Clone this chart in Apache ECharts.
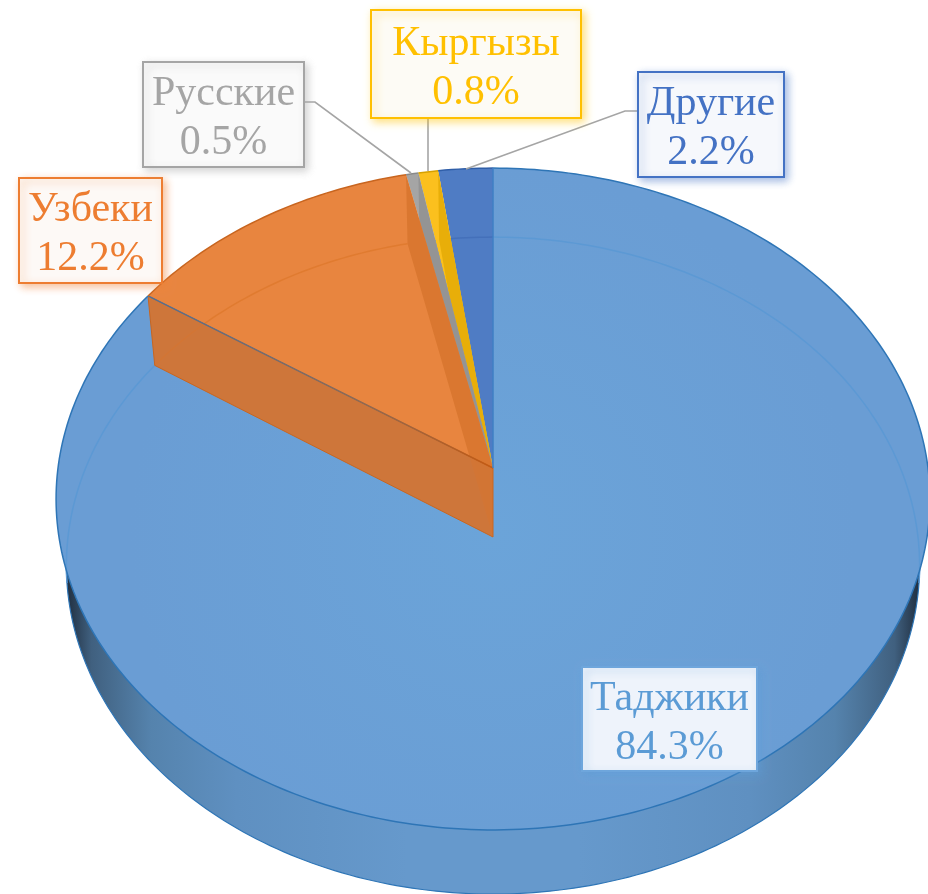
<!DOCTYPE html>
<html>
<head>
<meta charset="utf-8">
<style>
  html, body { margin: 0; padding: 0; background: #fff; }
  #chart { width: 928px; height: 894px; }
</style>
<script src="https://cdn.jsdelivr.net/npm/echarts@6/dist/echarts.min.js"></script>
</head>
<body>
<div id="chart"></div>
<script>
// clockwise from 12 o'clock, same order as the slices in the picture
const names = ['Таджики', 'Узбеки', 'Русские', 'Кыргызы', 'Другие'];
const values = [84.3, 12.2, 0.5, 0.8, 2.2];

const faceColors = ['#699fd6', '#e8853f', '#a5a5a5', '#fbc01e', '#4f7cc4'];
const wallColors = ['#5f97d0', '#d8762f', '#929292', '#e6ac08', '#4872bc'];
const rimColors = ['#2e75b6', '#c8651f', '#8a8a8a', '#d6a000', '#2f5ea8'];
const arcColors = ['#5c99d4', '#e07b30', '#9a9a9a', '#e6ac08', '#4470ba'];
const labelColors = ['#5b9bd5', '#ed7d31', '#a5a5a5', '#ffc000', '#4472c4'];
const labelFills = ['#eef3fb', '#fdf9f6', '#fafafa', '#fdfbf5', '#f6f8fc'];

// label boxes [x, y, w, h] and their leader lines
const labelBoxes = [
    [582, 667, 175, 104],
    [19, 178, 143, 105],
    [143, 62, 161, 105],
    [371, 10, 210, 108],
    [638, 72, 146, 105]
];
const leaders = [
    null,
    null,
    [[304, 102], [315, 102], [411, 173]],
    [[428, 118], [428, 171]],
    [[638, 111], [625, 111], [466, 169]]
];

// perspective of the top and bottom discs
const topRim = { cx: 493, cy: 468, r: 435, h: 328, k: 0.0937 };
const bottomRim = { cx: 493, cy: 537, r: 425, h: 326, k: 0.087 };

const project = (rim, deg) => {
    const a = deg * Math.PI / 180;
    const u = Math.sin(a);
    const v = Math.cos(a);
    const s = 1 / (1 + rim.k * v);
    return [rim.cx + rim.r * u * s, rim.cy - rim.h * v * s];
};

const arc = (rim, from, to) => {
    const pts = [];
    const steps = Math.max(2, Math.ceil(Math.abs(to - from)));
    for (let i = 0; i <= steps; i++) {
        pts.push(project(rim, from + (to - from) * i / steps));
    }
    return pts;
};

const topApex = [topRim.cx, topRim.cy];
const bottomApex = [bottomRim.cx, bottomRim.cy];

// slice angles come from the values
const total = values.reduce((a, b) => a + b, 0);
const starts = [];
let sum = 0;
values.forEach((v) => {
    starts.push(sum / total * 360);
    sum += v;
});

const sideFill = new echarts.graphic.LinearGradient(0, 0, 1, 0, [
    { offset: 0, color: '#1f2d3e' },
    { offset: 0.03, color: '#40607f' },
    { offset: 0.1, color: '#5583ad' },
    { offset: 0.2, color: '#5f90c1' },
    { offset: 0.4, color: '#6699cc' },
    { offset: 0.6, color: '#6699cc' },
    { offset: 0.8, color: '#5f90c1' },
    { offset: 0.9, color: '#5583ad' },
    { offset: 0.97, color: '#40607f' },
    { offset: 1, color: '#1f2d3e' }
]);
const tajikFill = new echarts.graphic.RadialGradient(0.5, 0.55, 0.55, [
    { offset: 0, color: '#6ba4d9' },
    { offset: 1, color: '#6a9dd4' }
]);
const cutEdge = new echarts.graphic.LinearGradient(0, 0, 1, 0, [
    { offset: 0, color: '#4f6f96' },
    { offset: 0.6, color: '#8a6a58' },
    { offset: 1, color: '#c55a11' }
]);

const poly = (points, style, z2) => ({
    type: 'polygon',
    shape: { points },
    style,
    z2: z2 || 0,
    silent: true
});
const line = (points, stroke, lineWidth, z2) => ({
    type: 'polyline',
    shape: { points },
    style: { stroke, lineWidth, fill: 'none' },
    z2: z2 || 0,
    silent: true
});

const renderSlice = (params, api) => {
    const i = params.dataIndex;
    const from = starts[i];
    const to = from + api.value(0) / total * 360;
    // small slices are painted right to left so a wall can only show on its own face
    const base = i === 0 ? 0 : (values.length - i) * 10;
    const children = [];

    if (i === 0) {
        // body of the pie: bottom disc shows as the side wall below the top disc
        children.push(poly(arc(bottomRim, 0, 360), { fill: sideFill, stroke: rimColors[0], lineWidth: 1.2 }));
    }

    // top face
    const face = [topApex].concat(arc(topRim, from, to));
    children.push(poly(face, { fill: i === 0 ? tajikFill : faceColors[i] }, base + 1));

    // far rim of the bottom disc, seen through the top
    if (i === 0) {
        children.push(line(arc(bottomRim, 0, 98), arcColors[i], 1.5, 1));
        children.push(line(arc(bottomRim, 262, to), arcColors[i], 1.5, 1));
    } else if (i === 1 || i === values.length - 1) {
        children.push(line(arc(bottomRim, from, to), arcColors[i], 1.5, base + 2));
    }

    // wall on the clockwise side of the slice
    if (i > 0 && i < values.length - 1) {
        children.push(poly([project(topRim, to), topApex, bottomApex, project(bottomRim, to)], {
            fill: wallColors[i],
            opacity: 0.92
        }, base + 3));
    }

    // near cut wall of the Uzbek slice
    if (i === 1) {
        children.push(poly([project(topRim, from), topApex, bottomApex, project(bottomRim, from)], {
            fill: '#d27535',
            opacity: 0.97,
            stroke: '#c8651f',
            lineWidth: 1
        }, 80));
        children.push(line([project(topRim, from), topApex], cutEdge, 1.5, 90));
    }

    // rim and straight edge of the face
    children.push(line(arc(topRim, from, to), rimColors[i], 1.5, 90));
    if (i === values.length - 1) {
        children.push(line([project(topRim, to), topApex], '#3f7fc4', 1.5, 90));
    }

    // leader line + label box
    if (leaders[i]) {
        children.push(line(leaders[i], '#a5a5a5', 1.6, 95));
    }
    const box = labelBoxes[i];
    children.push({
        type: 'rect',
        shape: { x: box[0], y: box[1], width: box[2], height: box[3] },
        style: {
            fill: labelFills[i],
            stroke: i === 0 ? '#6ea6dc' : labelColors[i],
            lineWidth: 2,
            shadowBlur: 8,
            shadowOffsetX: 3,
            shadowOffsetY: 3,
            shadowColor: echarts.color.modifyAlpha(labelColors[i], 0.5)
        },
        z2: 100,
        silent: true
    });
    children.push({
        type: 'text',
        x: box[0] + box[2] / 2,
        y: box[1] + box[3] / 2 + 4,
        style: {
            text: names[i] + '\n' + api.value(0).toFixed(1) + '%',
            fill: labelColors[i],
            fontFamily: '"Liberation Serif", serif',
            fontSize: 42,
            lineHeight: 49,
            align: 'center',
            verticalAlign: 'middle'
        },
        z2: 101,
        silent: true
    });

    return { type: 'group', children };
};

const myChart = echarts.init(document.getElementById('chart'));
const option = {
    backgroundColor: '#fff',
    animation: false,
    series: [
        {
            type: 'custom',
            coordinateSystem: 'none',
            clip: false,
            renderItem: renderSlice,
            data: values.map((v, i) => ({ name: names[i], value: [v] }))
        }
    ]
};
myChart.setOption(option);
window.addEventListener('resize', function () {
    myChart.resize();
});
</script>
</body>
</html>
